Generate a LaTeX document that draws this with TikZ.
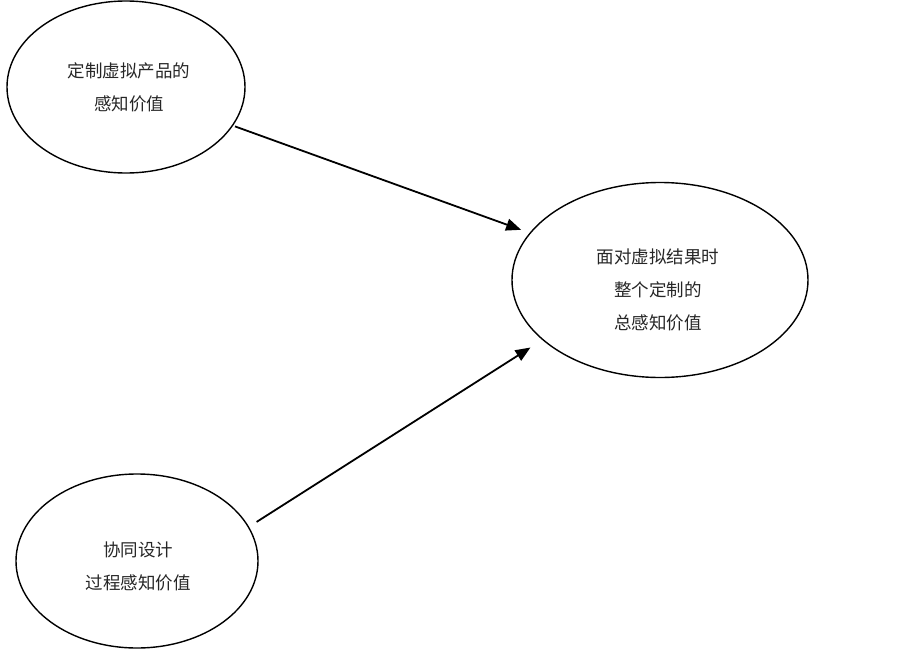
\documentclass[tikz,border=0pt]{standalone}
\usepackage{fontspec}
\newfontfamily\cjk{Noto Sans CJK SC}
\usetikzlibrary{arrows.meta,shapes.geometric}
\begin{document}
\begin{tikzpicture}[x=1pt,y=-1pt,
  oval/.style={draw=black,line width=1.4pt,ellipse,inner sep=0pt},
  lbl/.style={align=center,font=\cjk\fontsize{17.5pt}{33pt}\selectfont,text=black!85,inner sep=0pt},
  conn/.style={line width=1.8pt,-{Triangle[length=15pt,width=12pt]}}]
\useasboundingbox (0,0) rectangle (903,651);
\node[oval,minimum width=238pt,minimum height=172pt] (e1) at (126,87) {};
\node[oval,minimum width=296pt,minimum height=195pt] (e2) at (660,280) {};
\node[oval,minimum width=242pt,minimum height=174pt] (e3) at (137,561) {};
\node[lbl] (t1) at (129,87) {定制虚拟产品的\\感知价值};
\node[lbl] (t2) at (658,290) {面对虚拟结果时\\整个定制的\\总感知价值};
\node[lbl] (t3) at (138,566) {协同设计\\过程感知价值};
\draw[conn,shorten <=2pt,shorten >=9pt] (e1) -- (e2);
\draw[conn,shorten <=9pt,shorten >=14pt] (e3.17) -- (e2.207);
\end{tikzpicture}
\end{document}
